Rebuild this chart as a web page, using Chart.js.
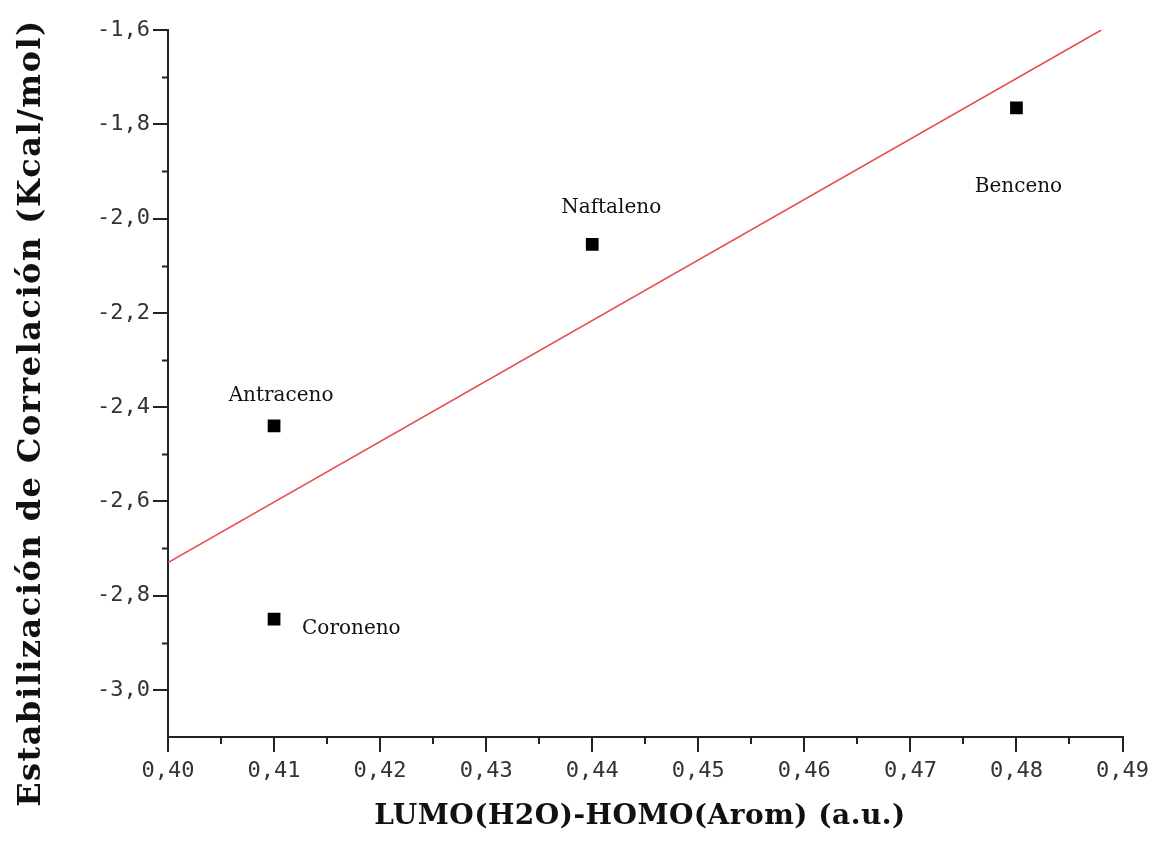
<!DOCTYPE html>
<html>
<head>
<meta charset="utf-8">
<style>
  html, body { margin: 0; padding: 0; background: #fff; }
  #chart { display: block; }
</style>
<script src="https://cdn.jsdelivr.net/npm/chart.js@4"></script>
</head>
<body>
<canvas id="chart" width="1155" height="855"></canvas>
<script>
  // data
  const pointNames = ['Antraceno', 'Coroneno', 'Naftaleno', 'Benceno'];
  const xValues = [0.41, 0.41, 0.44, 0.48];
  const yValues = [-2.44, -2.85, -2.055, -1.765];

  // red fit line, two ends
  const fitX = [0.40, 0.488];
  const fitY = [-2.73, -1.60];

  const xTicks = [0.40, 0.41, 0.42, 0.43, 0.44, 0.45, 0.46, 0.47, 0.48, 0.49];
  const xMinorTicks = [0.405, 0.415, 0.425, 0.435, 0.445, 0.455, 0.465, 0.475, 0.485];
  const yTicks = [-3.0, -2.8, -2.6, -2.4, -2.2, -2.0, -1.8, -1.6];
  const yMinorTicks = [-2.9, -2.7, -2.5, -2.3, -2.1, -1.9, -1.7];

  const xTitle = 'LUMO(H2O)-HOMO(Arom) (a.u.)';
  const yTitle = 'Estabilización de Correlación (Kcal/mol)';

  // label placement relative to each point (px): dx, dy to baseline, align
  const labelOffsets = [
    { dx: 7, dy: -25, align: 'center' },
    { dx: 28, dy: 15, align: 'left' },
    { dx: 19, dy: -31, align: 'center' },
    { dx: 2, dy: 84, align: 'center' }
  ];

  const AXIS = '#222';
  const TICK_FONT = { family: '"DejaVu Sans Mono", monospace', size: 22 };

  const decorations = {
    id: 'decorations',
    afterDraw(chart) {
      const { ctx, chartArea: a, scales: { x, y } } = chart;
      ctx.save();
      // minor ticks
      ctx.strokeStyle = AXIS;
      ctx.lineWidth = 2;
      ctx.beginPath();
      yMinorTicks.forEach(v => {
        const py = Math.round(y.getPixelForValue(v)) + 0.5;
        ctx.moveTo(a.left - 6, py);
        ctx.lineTo(a.left, py);
      });
      xMinorTicks.forEach(v => {
        const px = Math.round(x.getPixelForValue(v));
        ctx.moveTo(px, a.bottom);
        ctx.lineTo(px, a.bottom + 7);
      });
      ctx.stroke();

      // point names
      ctx.fillStyle = '#111';
      ctx.font = '20px "DejaVu Serif", serif';
      ctx.textBaseline = 'alphabetic';
      pointNames.forEach((name, i) => {
        const o = labelOffsets[i];
        ctx.textAlign = o.align;
        ctx.fillText(name, x.getPixelForValue(xValues[i]) + o.dx, y.getPixelForValue(yValues[i]) + o.dy);
      });

      // axis titles
      ctx.textAlign = 'center';
      ctx.font = 'bold 28px "DejaVu Serif", serif';
      ctx.letterSpacing = '0.5px';
      ctx.fillText(xTitle, 640, 824);
      ctx.font = 'bold 32px "DejaVu Serif", serif';
      ctx.letterSpacing = '1.5px';
      ctx.translate(32, 413);
      ctx.rotate(-Math.PI / 2);
      ctx.textBaseline = 'middle';
      ctx.fillText(yTitle, 0, 0);
      ctx.restore();
    }
  };

  const ctx = document.getElementById('chart').getContext('2d');
  new Chart(ctx, {
    type: 'scatter',
    data: {
      datasets: [
        {
          label: 'Compuestos',
          data: xValues.map((v, i) => ({ x: v, y: yValues[i] })),
          pointStyle: 'rect',
          pointRadius: 9,
          pointHoverRadius: 9,
          backgroundColor: '#000',
          borderColor: '#000',
          borderWidth: 0
        },
        {
          label: 'Ajuste',
          data: fitX.map((v, i) => ({ x: v, y: fitY[i] })),
          showLine: true,
          borderColor: '#e5484a',
          borderWidth: 1.5,
          pointRadius: 0,
          fill: false
        }
      ]
    },
    options: {
      responsive: false,
      animation: false,
      devicePixelRatio: 1,
      layout: { padding: { top: 30, right: 32, left: 0, bottom: 0 } },
      plugins: { legend: { display: false }, tooltip: { enabled: false } },
      scales: {
        x: {
          type: 'linear',
          min: 0.40,
          max: 0.49,
          afterBuildTicks: s => { s.ticks = xTicks.map(v => ({ value: v })); },
          afterFit: s => { s.height = 118; },
          grid: { drawOnChartArea: false, drawTicks: true, tickLength: 15, color: AXIS, lineWidth: 2 },
          border: { display: true, color: AXIS, width: 2 },
          ticks: {
            font: TICK_FONT,
            color: '#333',
            padding: 6,
            maxRotation: 0,
            autoSkip: false,
            callback: v => v.toFixed(2).replace('.', ',')
          }
        },
        y: {
          type: 'linear',
          min: -3.1,
          max: -1.6,
          afterBuildTicks: s => { s.ticks = yTicks.map(v => ({ value: v })); },
          afterFit: s => { s.width = 168; },
          grid: { drawOnChartArea: false, drawTicks: true, tickLength: 15, color: AXIS, lineWidth: 2 },
          border: { display: true, color: AXIS, width: 2 },
          ticks: {
            font: TICK_FONT,
            color: '#333',
            padding: 3,
            autoSkip: false,
            callback: v => v.toFixed(1).replace('.', ',')
          }
        }
      }
    },
    plugins: [decorations]
  });
</script>
</body>
</html>
